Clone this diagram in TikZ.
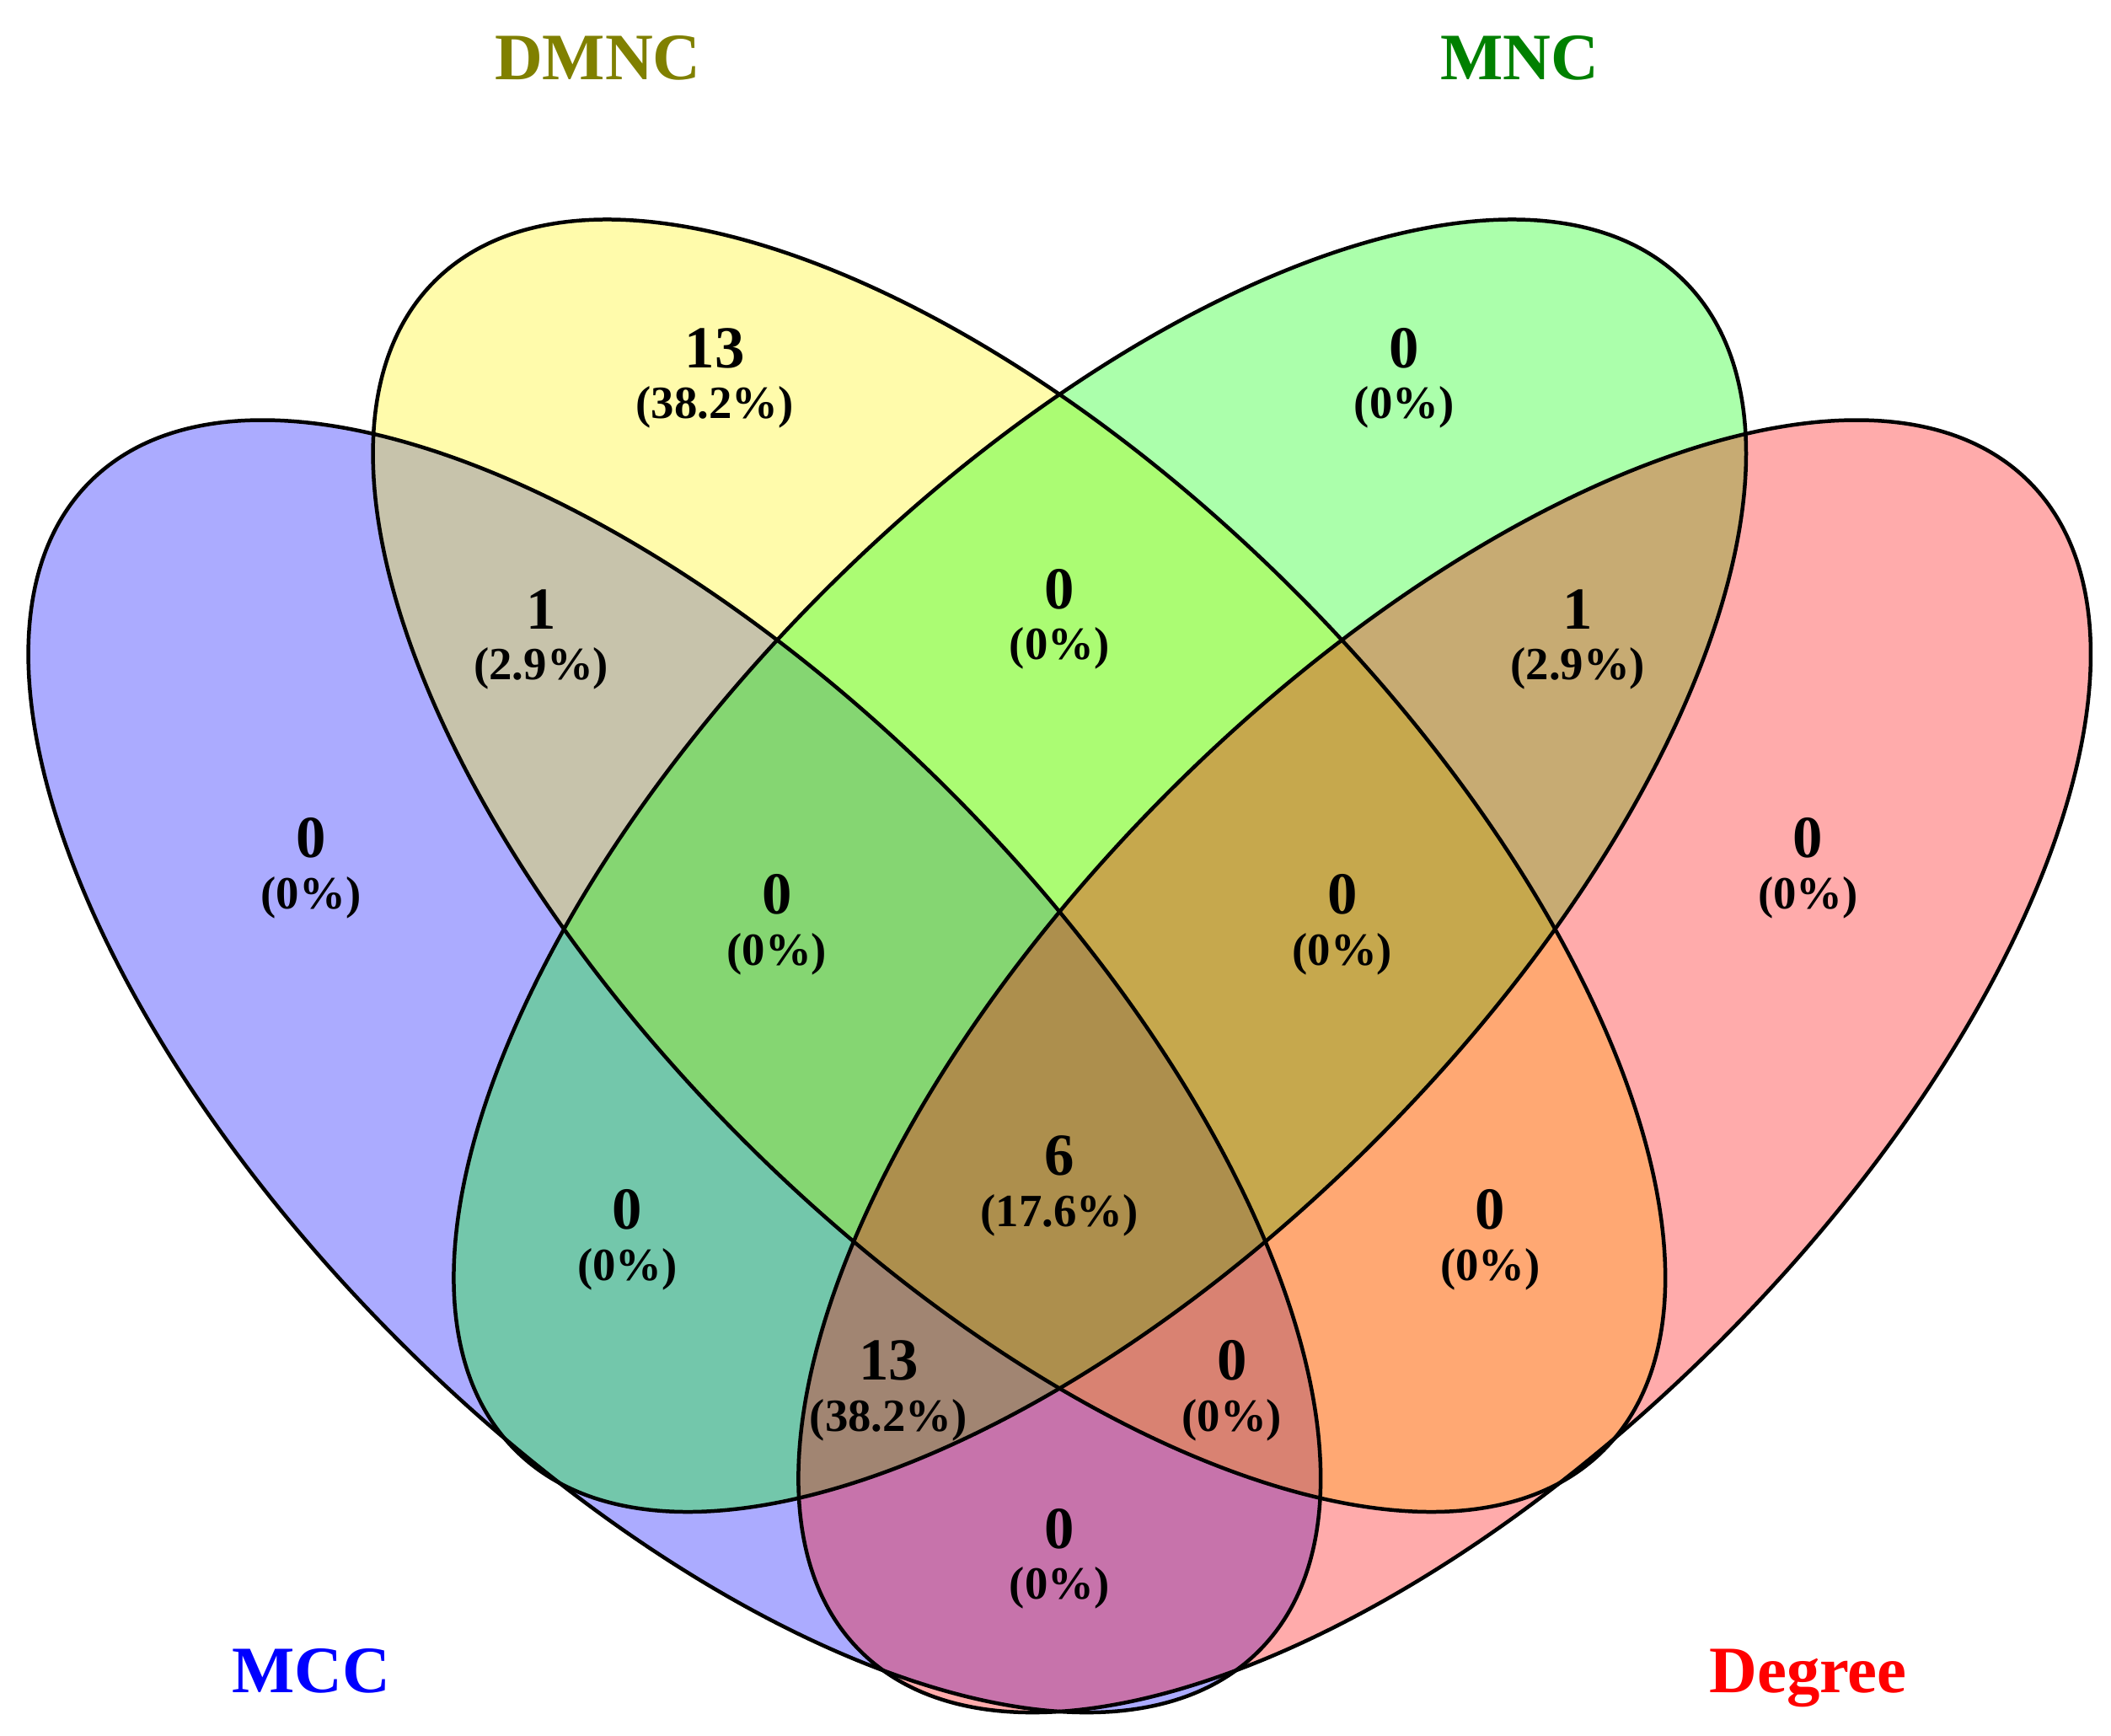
\documentclass[tikz,border=0pt]{standalone}
\usepackage{fontspec}
\setmainfont{Liberation Serif}
\usepackage{tikz}
\definecolor{coldmnc}{RGB}{128,128,0}
\definecolor{colmnc}{RGB}{0,128,0}
\tikzstyle{ensemble}=[fill opacity=0.33]
\tikzstyle{contour}=[draw=black,line width=0.8pt]
\tikzstyle{nombre}=[anchor=base,inner sep=0pt,font=\fontsize{12.6}{14}\selectfont\bfseries]
\tikzstyle{pourcent}=[anchor=base,inner sep=0pt,font=\fontsize{9.75}{11}\selectfont\bfseries]
\tikzstyle{titre}=[anchor=base,inner sep=0pt,font=\fontsize{14}{16}\selectfont\bfseries]
% un nombre et son pourcentage
\newcommand{\zone}[4]{%
  \node[nombre] (n#1) at (#2) {#3};
  \path (n#1.base) ++(0,38) node[pourcent] (p#1) {#4};}

\begin{document}
\begin{tikzpicture}[x=0.01cm,y=-0.01cm]
  \useasboundingbox (0,0) rectangle (1568,1289.4);
  % les quatre ensembles
  \fill[ensemble,blue,rotate around={-45:(501,792)}] (501,792) ellipse (614 and 289);
  \fill[ensemble,yellow,rotate around={-45:(757,643)}] (757,643) ellipse (614 and 289);
  \fill[ensemble,green,rotate around={45:(817,643)}] (817,643) ellipse (614 and 289);
  \fill[ensemble,red,rotate around={45:(1073,792)}] (1073,792) ellipse (614 and 289);
  \draw[contour,rotate around={-45:(501,792)}] (501,792) ellipse (614 and 289);
  \draw[contour,rotate around={-45:(757,643)}] (757,643) ellipse (614 and 289);
  \draw[contour,rotate around={45:(817,643)}] (817,643) ellipse (614 and 289);
  \draw[contour,rotate around={45:(1073,792)}] (1073,792) ellipse (614 and 289);

  \node[titre,text=coldmnc] (dmnc) at (444,59) {DMNC};
  \node[titre,text=colmnc] (mnc) at (1129,59) {MNC};
  \node[titre,text=blue] (mcc) at (231,1257) {MCC};
  \node[titre,text=red] (degree) at (1343,1257) {Degree};

  \zone{a}{231,637}{0}{(0\%)}
  \zone{b}{531,273}{13}{(38.2\%)}
  \zone{c}{1043,273}{0}{(0\%)}
  \zone{d}{1343,637}{0}{(0\%)}
  \zone{ab}{402,467}{1}{(2.9\%)}
  \zone{bc}{787,452}{0}{(0\%)}
  \zone{cd}{1172,467}{1}{(2.9\%)}
  \zone{abc}{577,679}{0}{(0\%)}
  \zone{bcd}{997,679}{0}{(0\%)}
  \zone{ac}{466,913}{0}{(0\%)}
  \zone{bd}{1107,913}{0}{(0\%)}
  \zone{abcd}{787,873}{6}{(17.6\%)}
  \zone{abd}{660,1025}{13}{(38.2\%)}
  \zone{acd}{915,1025}{0}{(0\%)}
  \zone{ad}{787,1150}{0}{(0\%)}
\end{tikzpicture}
\end{document}
